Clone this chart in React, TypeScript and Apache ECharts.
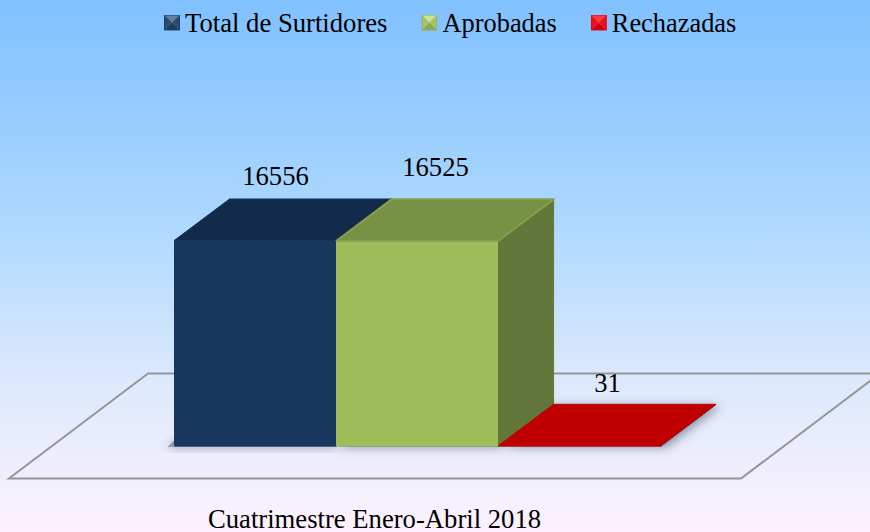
import React, { useEffect, useRef } from "react";
import * as echarts from "echarts";

const categories = ["Cuatrimestre Enero-Abril 2018"];
const seriesNames = ["Total de Surtidores", "Aprobadas", "Rechazadas"];
const totalValues = [16556];
const approvedValues = [16525];
const rejectedValues = [31];

const FONT = '"Liberation Serif", "Times New Roman", serif';
const FONT_SIZE = 26.67;
const FACES = [
  { front: "#17375E", top: "#122B4A", side: "#10263F", edge: "#15335A" },
  { front: "#9FBC5B", top: "#779145", side: "#64773A", edge: "#83A04C" },
  { front: "#C00000", top: "#C00000", side: "#900000", edge: "#C00000" },
];
const LABEL_SHIFT = [
  [20, -64],
  [18, -74],
  [28, -63],
];
const LEGEND_SIZES = [26.67, 26.4, 26.4];
const ICONS = [
  ["#1F3F66", "#1E3A5C", "#5F7FA3", "#2C4A6B", "#2C4A6B"],
  ["#8FA950", "#8FA950", "#CFE48C", "#A9C468", "#A9C468"],
  ["#E00010", "#CC0010", "#FF3A3A", "#F01018", "#F01018"],
];

function icon(c: string[]) {
  const svg =
    `<svg xmlns="http://www.w3.org/2000/svg" width="16" height="16">` +
    `<polygon points="0,0 16,0 8,8" fill="${c[2]}"/>` +
    `<polygon points="0,16 16,16 8,8" fill="${c[1]}"/>` +
    `<polygon points="0,0 0,16 8,8" fill="${c[3]}"/>` +
    `<polygon points="16,0 16,16 8,8" fill="${c[4]}"/>` +
    `<rect x="0.5" y="0.5" width="15" height="15" fill="none" stroke="${c[0]}"/></svg>`;
  return "image://data:image/svg+xml;base64," + btoa(svg);
}

function renderBar(params: any, api: any) {
  const i = params.seriesIndex;
  const f = FACES[i];
  const band = api.size([1, 0])[0];
  const w = band / 3;
  const base = api.coord([api.value(0), 0]);
  const tip = api.coord([api.value(0), api.value(1)]);
  const x0 = base[0] - band / 2 + i * w;
  const x1 = x0 + w;
  const y0 = base[1];
  const y1 = tip[1];
  const dx = w * 0.34;
  const dy = dx * 0.75;
  const face = (points: number[][], fill: string, stroke: string, lineWidth = 1) => ({
    type: "polygon",
    shape: { points },
    style: { fill, stroke, lineWidth, lineJoin: "round" },
  });
  const blurred = (points: number[][]) => ({
    type: "polygon",
    shape: { points },
    style: {
      fill: "rgba(95,106,128,0.55)",
      shadowBlur: 10,
      shadowColor: "rgba(60,70,90,0.9)",
      shadowOffsetX: i === 2 ? 5 : 0,
      shadowOffsetY: 1,
    },
  });
  const shadows =
    i === 0
      ? [blurred([[x0 - 7, y0 + 1], [x1, y0 + 1], [x1, y0 - 5], [x0 - 1, y0 - 5]])]
      : [blurred([[x0 + 2, y0 + 1], [x1 + 1, y0 + 1], [x1 + dx + 1, y0 - dy], [x0 + dx, y0 - dy]])];
  return {
    type: "group",
    children: [
      ...shadows,
      face([[x0, y0], [x1, y0], [x1, y1], [x0, y1]], f.front, f.front),
      face([[x1, y0], [x1 + dx, y0 - dy], [x1 + dx, y1 - dy], [x1, y1]], f.side, f.side),
      face([[x0, y1], [x1, y1], [x1 + dx, y1 - dy], [x0 + dx, y1 - dy]], f.top, f.edge, i === 1 ? 2 : 1),
      {
        type: "text",
        x: (x0 + x1) / 2 + LABEL_SHIFT[i][0],
        y: y1 + LABEL_SHIFT[i][1],
        style: {
          text: String(api.value(1)),
          fill: "#000",
          font: `${FONT_SIZE}px ${FONT}`,
          align: "center",
          verticalAlign: "middle",
        },
      },
    ],
  };
}

export default function App() {
  const ref = useRef<HTMLDivElement>(null);
  useEffect(() => {
    document.body.style.margin = "0";
    const chart = echarts.init(ref.current!, undefined, { renderer: "svg" });
    const values = [totalValues, approvedValues, rejectedValues];
    chart.setOption({
      animation: false,
      backgroundColor: new echarts.graphic.LinearGradient(0, 0, 0, 1, [
        { offset: 0, color: "#80C1FF" },
        { offset: 0.4, color: "#ABD7FF" },
        { offset: 0.72, color: "#DDE9FC" },
        { offset: 0.9, color: "#F1EFFD" },
        { offset: 1, color: "#FDF2FD" },
      ]),
      legend: {
        left: 159,
        top: 4,
        itemWidth: 16,
        itemHeight: 16,
        itemGap: 34,
        textStyle: { fontFamily: FONT, fontSize: FONT_SIZE, color: "#000" },
        data: seriesNames.map((name, i) => ({
          name,
          icon: icon(ICONS[i]),
          textStyle: { fontSize: LEGEND_SIZES[i] },
        })),
      },
      grid: { left: 174.5, right: 209.5, top: 197.5, bottom: 85 },
      xAxis: {
        type: "category",
        data: categories,
        axisLine: { show: false },
        axisTick: { show: false },
        axisLabel: {
          margin: 59,
          fontFamily: FONT,
          fontSize: FONT_SIZE,
          color: "#000",
          padding: [0, 86, 0, 0],
        },
      },
      yAxis: { type: "value", min: 0, max: 20000, show: false, splitLine: { show: false } },
      graphic: [
        {
          type: "polygon",
          z: 0,
          shape: { points: [[148, 373.5], [9, 478.5], [741, 478.5], [880, 373.5]] },
          style: { fill: "none", stroke: "#969696", lineWidth: 2 },
        },
      ],
      series: seriesNames.map((name, i) => ({
        name,
        type: "custom",
        renderItem: renderBar,
        encode: { x: 0, y: 1 },
        itemStyle: { color: FACES[i].front },
        data: values[i].map((v, k) => [k, v]),
      })),
    });
    return () => chart.dispose();
  }, []);
  return <div ref={ref} style={{ width: 870, height: 532 }} />;
}
